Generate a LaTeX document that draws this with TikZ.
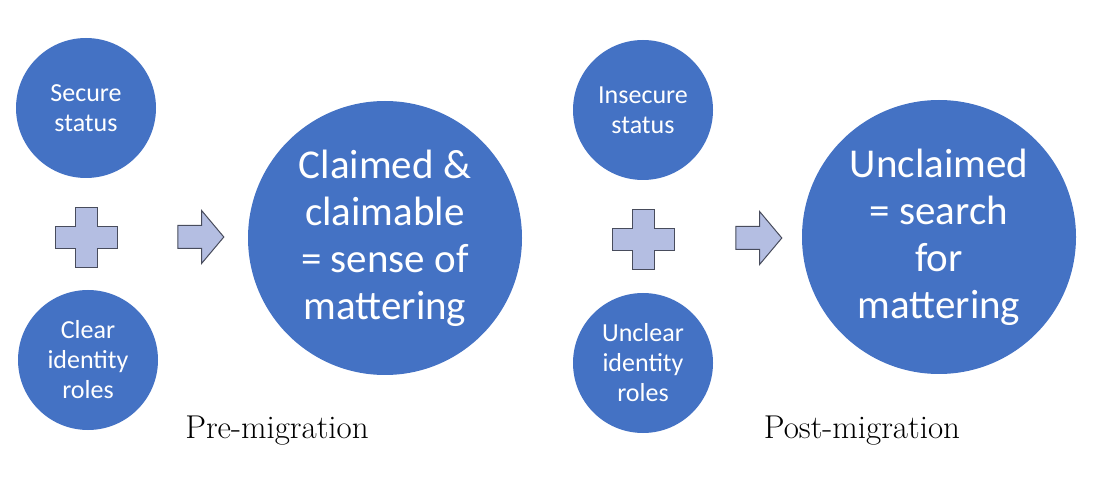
\documentclass[tikz,border=0pt]{standalone}
\usepackage{fontspec}
\newfontfamily\calibri{Carlito}
\usetikzlibrary{shapes.arrows,positioning}

\definecolor{circblue}{RGB}{68,114,196}
\definecolor{shapefill}{RGB}{180,190,226}
\definecolor{shapeline}{RGB}{72,76,92}

\tikzstyle{small} = [circle, fill=circblue, text=white, minimum size=140pt, inner sep=0pt, align=center, font=\calibri\fontsize{26}{30}\selectfont]
\tikzstyle{big} = [circle, fill=circblue, text=white, minimum size=274pt, inner sep=0pt, align=center, font=\calibri\fontsize{41}{47}\selectfont]
\tikzstyle{flowarrow} = [single arrow, draw=shapeline, fill=shapefill, line width=1pt, minimum height=46pt, inner sep=11pt, single arrow head extend=15pt, single arrow tip angle=100]
\tikzstyle{phase} = [font=\fontsize{33}{36}\selectfont]

\tikzset{plussign/.pic={
  \draw[draw=shapeline, fill=shapefill, line width=1pt]
    (-11,-30) -- (11,-30) -- (11,-11) -- (31,-11) -- (31,11) -- (11,11) -- (11,30)
    -- (-11,30) -- (-11,11) -- (-31,11) -- (-31,-11) -- (-11,-11) -- cycle;
}}

\begin{document}
\begin{tikzpicture}[x=1pt, y=-1pt]
\useasboundingbox (0,0) rectangle (1093,486);
% Pre-migration
\node [small] (Secure) at (86,108) {Secure\\status};
\node [small] (Clear) at (88,360) {Clear\\identity\\roles};
\pic (PlusPre) at (86,238) {plussign};
\node [flowarrow] (ArrPre) at (196,237) {};
\node [big] (Claimed) at (385,238) {Claimed \&\\claimable\\= sense of\\mattering};
\node [phase] (Pre) at (277,431) {Pre-migration};
% Post-migration
\node [small] (Insecure) at (643,110) {Insecure\\status};
\node [small] (Unclear) at (643,363) {Unclear\\identity\\roles};
\pic (PlusPost) at (643,240) {plussign};
\node [flowarrow] (ArrPost) at (754,238) {};
\node [big] (Unclaimed) at (939,237) {Unclaimed\\= search\\for\\mattering};
\node [phase] (Post) at (862,431) {Post-migration};
\end{tikzpicture}
\end{document}
